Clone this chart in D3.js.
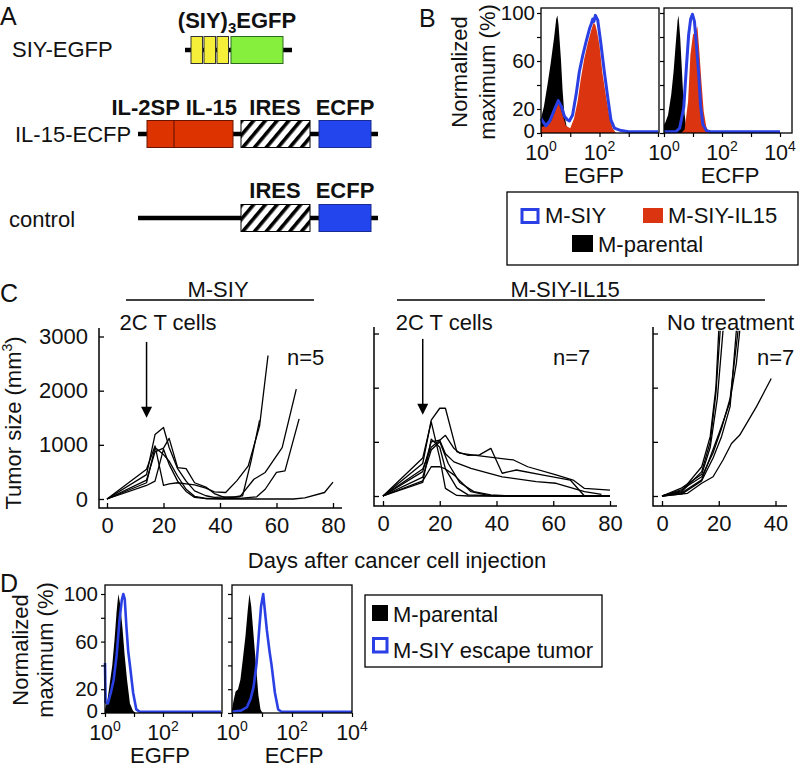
<!DOCTYPE html>
<html>
<head>
<meta charset="utf-8">
<script src="https://cdn.jsdelivr.net/npm/d3@7/dist/d3.min.js"></script>
<style>
  html,body{margin:0;padding:0;background:#fff;}
  svg{display:block;}
  text{font-family:"Liberation Sans",Arial,Helvetica,sans-serif;}
</style>
</head>
<body>
<svg id="fig" width="802" height="770"></svg>
<script>
// ================= DATA =================
// Panel A: constructs
const constructNames = ["SIY-EGFP", "IL-15-ECFP", "control"];
const siyEgfpParts = ["SIY", "SIY", "SIY", "EGFP"];
const il15EcfpParts = ["IL-2SP", "IL-15", "IRES", "ECFP"];
const controlParts = ["IRES", "ECFP"];

// Panel B flow histograms: [log10 fluorescence, % of max]
const bEgfpParental = [[0,12],[0.1,22],[0.22,40],[0.33,58],[0.45,80],[0.52,95],[0.56,98],[0.6,90],[0.68,62],[0.74,35],[0.8,15],[0.87,6],[0.97,2],[1.1,0]];
const bEgfpSiyIl15 = [[0,5],[0.2,6],[0.35,10],[0.48,18],[0.58,26],[0.68,20],[0.75,14],[0.85,6],[1.0,4],[1.13,12],[1.25,26],[1.36,45],[1.48,62],[1.6,75],[1.71,85],[1.8,92],[1.86,90],[1.92,84],[2.0,73],[2.1,50],[2.22,31],[2.33,15],[2.45,4],[2.56,0]];
const bEgfpSiy = [[0,12],[0.08,9],[0.17,6],[0.3,10],[0.45,19],[0.59,27],[0.7,22],[0.8,14],[0.9,11],[0.97,10],[1.08,15],[1.2,32],[1.31,51],[1.43,65],[1.54,76],[1.66,87],[1.72,91],[1.77,95],[1.81,93],[1.86,98],[1.9,96],[1.94,94],[2.05,74],[2.16,52],[2.28,30],[2.39,11],[2.51,4],[2.74,2],[3.0,1],[4,1]];
const bEcfpParental = [[0,7],[0.05,9],[0.14,15],[0.25,32],[0.33,51],[0.4,73],[0.47,94],[0.5,98],[0.56,79],[0.62,51],[0.68,23],[0.75,7],[0.83,1],[0.9,0]];
const bEcfpSiyIl15 = [[0.6,0],[0.71,3],[0.83,26],[0.91,65],[1.0,82],[1.08,84],[1.15,89],[1.21,71],[1.29,43],[1.37,18],[1.46,5],[1.57,0]];
const bEcfpSiy = [[0,1],[0.4,1],[0.54,4],[0.68,21],[0.77,54],[0.85,82],[0.92,95],[0.98,99],[1.05,93],[1.11,76],[1.2,48],[1.26,23],[1.34,7],[1.46,2],[1.6,1],[4,1]];

// Panel D flow histograms
const dEgfpParental = [[0,3],[0.08,10],[0.15,22],[0.25,40],[0.33,62],[0.4,85],[0.46,100],[0.52,92],[0.6,72],[0.68,48],[0.76,28],[0.86,8],[0.96,2],[1.05,0]];
const dEgfpEscape = [[0,42],[0.02,9],[0.1,8],[0.2,17],[0.3,28],[0.4,48],[0.5,78],[0.58,95],[0.63,100],[0.68,96],[0.74,72],[0.8,52],[0.87,38],[0.97,17],[1.08,3],[1.2,1],[4,1]];
const dEcfpParental = [[0,3],[0.05,10],[0.12,18],[0.2,20],[0.28,28],[0.36,45],[0.45,65],[0.52,85],[0.58,100],[0.64,90],[0.72,65],[0.8,40],[0.88,15],[0.95,3],[1.02,0]];
const dEcfpEscape = [[0,1],[0.3,2],[0.5,5],[0.62,12],[0.72,22],[0.82,42],[0.9,68],[0.97,90],[1.04,100],[1.1,85],[1.16,70],[1.25,52],[1.32,40],[1.43,17],[1.54,3],[1.65,1],[4,1]];

const flowYTicks = [0, 20, 40, 60, 80, 100];
const flowYLabels = [0, 20, 60, 100];
const decadeTicks = [0, 1, 2, 3, 4];
const legendB = ["M-SIY", "M-SIY-IL15", "M-parental"];
const legendD = ["M-parental", "M-SIY escape tumor"];

// Panel C: tumor growth [day, mm^3]
const siyMice = [
  [[0,0],[14,450],[17,1190],[20,1320],[22,950],[25,560],[28,330],[31,150],[35,60],[38,30],[42,40],[45,40],[48,60],[51,700],[54,1450]],
  [[0,0],[14,550],[17,980],[20,250],[22,280],[25,300],[28,280],[31,260],[35,200],[38,130],[42,120],[46,340],[50,610],[54,1345],[57,2650]],
  [[0,0],[14,350],[17,870],[20,940],[22,1120],[25,580],[28,560],[31,300],[35,220],[38,100],[42,20],[47,40],[52,365],[56,490],[62,950],[67,2030]],
  [[0,0],[14,300],[17,950],[20,820],[22,700],[25,420],[28,180],[31,50],[35,10],[38,10],[42,10],[47,10],[53,40],[56,180],[60,490],[63,520],[68,1480]],
  [[0,0],[14,250],[17,330],[20,920],[22,640],[25,330],[28,140],[31,30],[35,5],[40,0],[50,0],[60,0],[66,0],[70,20],[77,120],[80,310]]
];
const il15Mice = [
  [[0,0],[14,600],[17,1400],[20,1620],[22,1620],[26,820],[30,750],[34,760],[38,880],[42,420],[47,480],[56,390],[66,295],[71,0],[80,0]],
  [[0,0],[14,500],[17,900],[20,1030],[22,1120],[25,880],[27,790],[32,755],[46,665],[51,540],[61,390],[67,295],[71,140],[80,110]],
  [[0,0],[14,450],[17,1000],[20,1030],[22,780],[25,630],[31,510],[42,355],[54,265],[61,235],[71,80],[77,30]],
  [[0,0],[14,700],[17,1370],[20,700],[22,140],[26,10],[30,0],[80,0]],
  [[0,0],[14,350],[17,850],[20,1000],[23,600],[27,250],[32,80],[38,20],[45,0],[80,0]],
  [[0,0],[14,280],[17,540],[20,540],[22,500],[25,390],[31,80],[37,10],[45,0],[80,0]],
  [[0,0],[14,250],[17,1050],[20,900],[22,500],[26,150],[30,20],[40,0],[80,0]]
];
const untreatedMice = [
  [[0,0],[7,100],[14,540],[17,1100],[19,2000],[20,3050]],
  [[0,0],[7,80],[14,450],[17,1000],[19,1900],[20.5,3050]],
  [[0,0],[7,150],[14,400],[17,900],[19.5,1800],[21.5,3050]],
  [[0,0],[7,60],[14,300],[17.5,790],[20.3,1185],[23.8,1710],[26.2,2450],[27.4,3050]],
  [[0,0],[7,120],[14,355],[18,800],[21,1250],[24,1800],[26.8,3050]],
  [[0,0],[7,40],[14,280],[18,700],[21,1100],[24,1650],[26.2,3050]],
  [[0,0],[9,50],[14,235],[18,355],[21.5,665],[24.5,970],[27.4,1125],[33.3,1650],[38.5,2170]]
];
const tumorYTicks = [0, 1000, 2000, 3000];
const dayTicksLong = [0, 20, 40, 60, 80];
const dayTicksShort = [0, 20, 40];
const treatmentDay = 14;

// ================= DRAWING =================
const svg = d3.select("#fig");
const INK = "#111";
const BLUE = "#2a40e4";
const RED = "#db3411";
const FONT = "Liberation Sans, Arial, Helvetica, sans-serif";

function txt(parent, x, y, s, o = {}) {
  const t = parent.append("text").attr("x", x).attr("y", y)
    .attr("font-size", o.size || 22).attr("fill", INK)
    .attr("text-anchor", o.anchor || "start").text(s);
  if (o.bold) t.attr("font-weight", "bold");
  return t;
}

// panel letters
const gLet = svg.append("g");
txt(gLet, 0, 25, "A", {size: 25});
txt(gLet, 419, 27, "B", {size: 25});
txt(gLet, 0, 302, "C", {size: 25});
txt(gLet, 0, 592, "D", {size: 25});

// ---------- Panel A ----------
const defs = svg.append("defs");
const pat = defs.append("pattern").attr("id", "hatch").attr("patternUnits", "userSpaceOnUse")
  .attr("width", 9).attr("height", 9).attr("patternTransform", "rotate(40)");
pat.append("rect").attr("width", 9).attr("height", 9).attr("fill", "#fff");
pat.append("rect").attr("width", 3.6).attr("height", 9).attr("fill", "#000");

const gA = svg.append("g");
const partFill = {SIY: "#f5ef3a", EGFP: "#86ef3d", "IL-2SP": "#dd3300", "IL-15": "#dd3300", IRES: "url(#hatch)", ECFP: "#2345ee"};
function backbone(x1, x2, y) {
  gA.append("line").attr("x1", x1).attr("x2", x2).attr("y1", y).attr("y2", y)
    .attr("stroke", "#000").attr("stroke-width", 4.5);
}
function box(x1, x2, yc, part, stroke) {
  gA.append("rect").attr("x", x1).attr("y", yc - 13.5).attr("width", x2 - x1).attr("height", 27)
    .attr("fill", partFill[part]).attr("stroke", stroke || "#222").attr("stroke-width", 1);
}
// construct 1
backbone(185, 292, 50);
siyEgfpParts.forEach((p, i) => {
  if (p === "SIY") box(191 + i * 13, 202.5 + i * 13, 50, p, "#333");
  else box(231, 283, 50, p, "#2a6a20");
});
const t1 = txt(gA, 237, 28, "", {bold: true, anchor: "middle"});
t1.append("tspan").text("(SIY)");
t1.append("tspan").attr("font-size", 15).attr("dy", 5).text("3");
t1.append("tspan").attr("dy", -5).text("EGFP");
txt(gA, 12, 57, constructNames[0]);
// construct 2
backbone(138, 378, 134);
box(147, 233, 134, "IL-15", "#6a1500");
gA.append("line").attr("x1", 174).attr("x2", 174).attr("y1", 120.5).attr("y2", 147.5).attr("stroke", "#5a1000").attr("stroke-width", 1);
box(241, 310, 134, "IRES", "#000");
box(319, 371, 134, "ECFP", "#1a2a90");
txt(gA, 237, 115, il15EcfpParts[0] + " " + il15EcfpParts[1], {bold: true, anchor: "end"});
txt(gA, 275, 115, il15EcfpParts[2], {bold: true, anchor: "middle"});
txt(gA, 345, 115, il15EcfpParts[3], {bold: true, anchor: "middle"});
txt(gA, 15, 142, constructNames[1]);
// construct 3
backbone(138, 378, 218);
box(241, 310, 218, "IRES", "#000");
box(319, 371, 218, "ECFP", "#1a2a90");
txt(gA, 275, 198, controlParts[0], {bold: true, anchor: "middle"});
txt(gA, 345, 198, controlParts[1], {bold: true, anchor: "middle"});
txt(gA, 9, 227, constructNames[2]);

// ---------- Flow plots (B, D) ----------
function flowPlot(cfg) {
  const g = svg.append("g");
  const x = d3.scaleLinear().domain([0, 4]).range([cfg.left, cfg.left + 4 * cfg.decade]);
  const y = d3.scaleLinear().domain([0, 100]).range([cfg.bottom, cfg.y100]);
  const area = d3.area().x(d => x(d[0])).y0(y(0)).y1(d => y(d[1]));
  const line = d3.line().x(d => x(d[0])).y(d => y(d[1]));
  cfg.fills.forEach(f => g.append("path").datum(f.data).attr("d", area).attr("fill", f.color));
  cfg.outlines.forEach(o => g.append("path").datum(o.data).attr("d", line)
    .attr("fill", "none").attr("stroke", o.color).attr("stroke-width", o.width)
    .attr("stroke-linejoin", "round"));
  g.append("rect").attr("x", cfg.left).attr("y", cfg.top).attr("width", cfg.right - cfg.left)
    .attr("height", cfg.bottom - cfg.top).attr("fill", "none").attr("stroke", "#000").attr("stroke-width", 1.3);
  const xa = g.append("g").attr("transform", `translate(0,${cfg.bottom})`)
    .call(d3.axisBottom(x).tickValues(decadeTicks).tickSize(4).tickFormat(() => ""));
  xa.select(".domain").remove();
  xa.selectAll("line").attr("stroke", "#000").attr("stroke-width", 1.2);
  const ya = g.append("g").attr("transform", `translate(${cfg.left},0)`)
    .call(d3.axisLeft(y).tickValues(flowYTicks).tickSize(4).tickPadding(cfg.yPad)
      .tickFormat(d => (cfg.yLabels && flowYLabels.includes(d)) ? d : ""));
  ya.select(".domain").remove();
  ya.attr("font-size", 20.5).attr("font-family", FONT);
  ya.selectAll("text").attr("fill", INK).attr("dy", d => d === 0 ? "0.2em" : "0.32em");
  ya.selectAll("line").attr("stroke", "#000").attr("stroke-width", 1.2);
  cfg.xLabels.forEach(e => {
    const t = g.append("text").attr("x", x(e)).attr("y", cfg.bottom + 27)
      .attr("text-anchor", "middle").attr("font-size", 21.5).attr("fill", INK);
    t.append("tspan").text("10");
    t.append("tspan").attr("font-size", 14).attr("dy", -9).text(e);
  });
  txt(g, cfg.titleX, cfg.bottom + 50, cfg.title, {anchor: "middle"});
}

// Panel B
flowPlot({left: 541, right: 659, top: 8, bottom: 133, y100: 13, decade: 29.25, yLabels: true, yPad: 2,
  fills: [{data: bEgfpParental, color: "#000"}, {data: bEgfpSiyIl15, color: RED}],
  outlines: [{data: bEgfpSiy, color: BLUE, width: 3}],
  xLabels: [0, 2], title: "EGFP", titleX: 594});
flowPlot({left: 664, right: 792, top: 8, bottom: 133, y100: 13, decade: 29, yLabels: false, yPad: 2,
  fills: [{data: bEcfpParental, color: "#000"}, {data: bEcfpSiyIl15, color: RED}],
  outlines: [{data: bEcfpSiy, color: BLUE, width: 3}],
  xLabels: [0, 2, 4], title: "ECFP", titleX: 730});

function yTitle(xN, xM, cy) {
  txt(svg, 0, 0, "Normalized", {anchor: "middle"}).attr("transform", `translate(${xN},${cy}) rotate(-90)`);
  txt(svg, 0, 0, "maximum (%)", {anchor: "middle"}).attr("transform", `translate(${xM},${cy}) rotate(-90)`);
}
yTitle(467, 495, 72);

// Legend B
const gLB = svg.append("g");
gLB.append("rect").attr("x", 507).attr("y", 192).attr("width", 291).attr("height", 73)
  .attr("fill", "none").attr("stroke", "#000").attr("stroke-width", 1.3);
gLB.append("rect").attr("x", 522).attr("y", 209.5).attr("width", 16).attr("height", 13)
  .attr("fill", "#fff").attr("stroke", BLUE).attr("stroke-width", 3);
txt(gLB, 545, 223, legendB[0]);
gLB.append("rect").attr("x", 643).attr("y", 208).attr("width", 20).attr("height", 15).attr("fill", RED);
txt(gLB, 668, 223, legendB[1]);
gLB.append("rect").attr("x", 572).attr("y", 235).attr("width", 21).attr("height", 17).attr("fill", "#000");
txt(gLB, 598, 252, legendB[2]);

// Panel D
flowPlot({left: 105, right: 222, top: 585, bottom: 713, y100: 594, decade: 29, yLabels: true, yPad: 3,
  fills: [{data: dEgfpParental, color: "#000"}],
  outlines: [{data: dEgfpEscape, color: BLUE, width: 2.6}],
  xLabels: [0, 2], title: "EGFP", titleX: 160});
flowPlot({left: 232, right: 352, top: 585, bottom: 713, y100: 594, decade: 30, yLabels: false, yPad: 3,
  fills: [{data: dEcfpParental, color: "#000"}],
  outlines: [{data: dEcfpEscape, color: BLUE, width: 2.6}],
  xLabels: [0, 2, 4], title: "ECFP", titleX: 294});
yTitle(28, 53, 650);

// Legend D
const gLD = svg.append("g");
gLD.append("rect").attr("x", 365).attr("y", 595).attr("width", 237).attr("height", 72)
  .attr("fill", "none").attr("stroke", "#000").attr("stroke-width", 1.3);
gLD.append("rect").attr("x", 372).attr("y", 605).attr("width", 16).attr("height", 16).attr("fill", "#000");
txt(gLD, 393, 622, legendD[0]);
gLD.append("rect").attr("x", 373.5).attr("y", 638.5).attr("width", 13.5).attr("height", 13.5)
  .attr("fill", "#fff").attr("stroke", BLUE).attr("stroke-width", 3);
txt(gLD, 393, 658, legendD[1]);

// ---------- Panel C ----------
function tumorPlot(cfg) {
  const g = svg.append("g");
  const x = d3.scaleLinear().domain([0, cfg.dayMax]).range([cfg.x0, cfg.xMax]);
  const y = d3.scaleLinear().domain([0, 3000]).range([cfg.yZero, cfg.y3000]);
  g.append("path").attr("d", `M${cfg.axisX},${cfg.axisTop}V${cfg.axisY}H${cfg.axisRight}`)
    .attr("fill", "none").attr("stroke", "#000").attr("stroke-width", 1.5);
  const ya = g.append("g").attr("transform", `translate(${cfg.axisX},0)`)
    .call(d3.axisLeft(y).tickValues(tumorYTicks).tickSizeInner(-5).tickSizeOuter(0).tickPadding(11)
      .tickFormat(d => cfg.yLabels ? d : ""));
  ya.select(".domain").remove();
  ya.attr("font-size", 22).attr("font-family", FONT);
  ya.selectAll("text").attr("fill", INK);
  ya.selectAll("line").attr("stroke", "#000").attr("stroke-width", 1.3);
  const xa = g.append("g").attr("transform", `translate(0,${cfg.axisY})`)
    .call(d3.axisBottom(x).tickValues(cfg.xTicks).tickSizeInner(-5).tickSizeOuter(0));
  xa.select(".domain").remove();
  xa.attr("font-size", 22).attr("font-family", FONT);
  xa.selectAll("text").attr("fill", INK).attr("y", 25).attr("dy", null);
  xa.selectAll("line").attr("stroke", "#000").attr("stroke-width", 1.3);
  const line = d3.line().x(d => x(d[0])).y(d => y(d[1]));
  g.selectAll("path.mouse").data(cfg.series).join("path").attr("class", "mouse")
    .attr("d", line).attr("fill", "none").attr("stroke", "#000").attr("stroke-width", 1.3)
    .attr("stroke-linejoin", "round");
  if (cfg.arrow) {
    const ax = x(treatmentDay);
    const top = y(2900), tip = y(1500);
    g.append("line").attr("x1", ax).attr("x2", ax).attr("y1", top).attr("y2", tip - 8)
      .attr("stroke", "#000").attr("stroke-width", 1.5);
    g.append("path").attr("d", `M${ax - 5.5},${tip - 11}L${ax + 5.5},${tip - 11}L${ax},${tip}Z`).attr("fill", "#000");
    txt(g, ax - 27, 330, "2C T cells");
  }
  txt(g, cfg.nX, 365, "n=" + cfg.series.length);
  return {x, y};
}
tumorPlot({x0: 107, xMax: 333, dayMax: 80, yZero: 499, y3000: 336.5, axisX: 99, axisY: 508, axisTop: 328, axisRight: 342,
  yLabels: true, xTicks: dayTicksLong, series: siyMice, arrow: true, nX: 287});
tumorPlot({x0: 383, xMax: 610, dayMax: 80, yZero: 496, y3000: 333.5, axisX: 374, axisY: 506, axisTop: 327, axisRight: 617,
  yLabels: false, xTicks: dayTicksLong, series: il15Mice, arrow: true, nX: 553});
tumorPlot({x0: 662, xMax: 775.5, dayMax: 40, yZero: 496, y3000: 333.5, axisX: 653, axisY: 506, axisTop: 327, axisRight: 787,
  yLabels: false, xTicks: dayTicksShort, series: untreatedMice, arrow: false, nX: 757});
txt(svg, 667, 330, "No treatment");

// group headers
txt(svg, 218, 297, "M-SIY", {anchor: "middle"});
svg.append("line").attr("x1", 126).attr("x2", 314).attr("y1", 300).attr("y2", 300).attr("stroke", "#000").attr("stroke-width", 1.5);
txt(svg, 565, 297, "M-SIY-IL15", {anchor: "middle"});
svg.append("line").attr("x1", 397).attr("x2", 765).attr("y1", 300).attr("y2", 300).attr("stroke", "#000").attr("stroke-width", 1.5);

// axis titles
const yt = txt(svg, 0, 0, "Tumor size (mm", {anchor: "middle"}).attr("transform", "translate(21,423) rotate(-90)");
yt.append("tspan").attr("font-size", 14).attr("dy", -9).text("3");
yt.append("tspan").attr("dy", 9).text(")");
txt(svg, 397, 568, "Days after cancer cell injection", {anchor: "middle"});
</script>
</body>
</html>
